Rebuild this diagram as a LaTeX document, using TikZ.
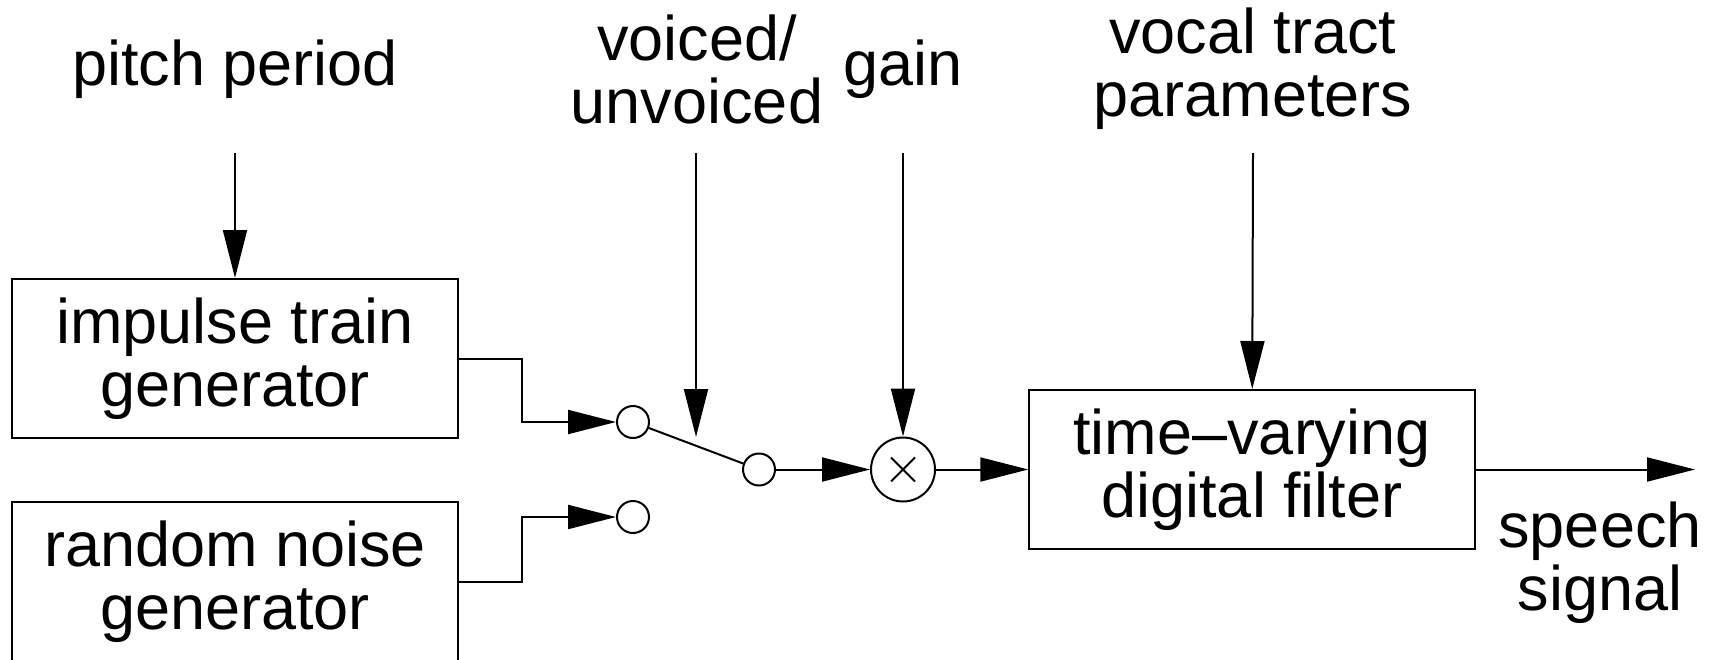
\documentclass[tikz,border=0pt]{standalone}
\usepackage{fontspec}
\setmainfont{Liberation Sans}
\usetikzlibrary{arrows.meta}

\begin{document}
\begin{tikzpicture}[x=0.5pt, y=-0.5pt, line width=1pt,
    cross/.style={path picture={ \draw ([shift={(-6pt,-6pt)}]path picture bounding box.center) -- ([shift={(6pt,6pt)}]path picture bounding box.center) ([shift={(-6pt,6pt)}]path picture bounding box.center) -- ([shift={(6pt,-6pt)}]path picture bounding box.center);}}]
    \tikzstyle{block}=[rectangle, draw, minimum width=222.75pt, minimum height=79.5pt, inner sep=0pt, align=center, font=\fontsize{31.5}{31.5}\selectfont]
    \tikzstyle{lbl}=[align=center, inner sep=0pt, font=\fontsize{31.5}{31.5}\selectfont]
    \tikzstyle{junction}=[circle, draw, fill=white, minimum size=16pt, inner sep=0pt]
    \tikzstyle{mult}=[circle, draw, minimum size=32pt, inner sep=0pt]
    \tikzstyle{connect}=[-{Triangle[length=24pt, width=12pt]}]

    \useasboundingbox (0,0) rectangle (1712,659);

      \node[block] (imp) at (235,358.5) {impulse train\\generator};
      \node[block] (noise) at (235,581.5) {random noise\\generator};
      \node[block] (filt) at (1252,469.5) {time--varying\\digital filter};
      \node[junction] (sw1) at (633,422) {};
      \node[junction] (sw2) at (633,517) {};
      \node[junction] (swout) at (759,469.5) {};
      \node[mult, cross] (mult) at (903,469.5) {};
      \node[lbl] (pitch) at (235,69) {pitch period};
      \node[lbl] (voiced) at (697,69) {voiced/\\unvoiced};
      \node[lbl] (gain) at (903,69) {gain};
      \node[lbl] (tract) at (1253,69) {vocal tract\\parameters};
      \node[lbl] (speech) at (1600,563) {speech\\signal};
      \coordinate (pitchin) at (235,153);
      \coordinate (voicedin) at (696,153);
      \coordinate (voicedtip) at (696,437);
      \coordinate (gainin) at (903,153);
      \coordinate (tractin) at (1253,153);
      \coordinate (out) at (1695,469.5);

      \path
        (pitchin) edge [connect] (imp)
        (voicedin) edge [connect] (voicedtip)
        (gainin) edge [connect] (mult)
        (tractin) edge [connect] (filt)
        (swout) edge [connect] (mult)
        (mult) edge [connect] (filt)
        (filt) edge [connect] (out)
        (sw1) edge (swout);
      \draw[connect] (imp.east) -- ++(63,0) |- (sw1);
      \draw[connect] (noise.east) -- ++(63,0) |- (sw2);
    \end{tikzpicture}
\end{document}
